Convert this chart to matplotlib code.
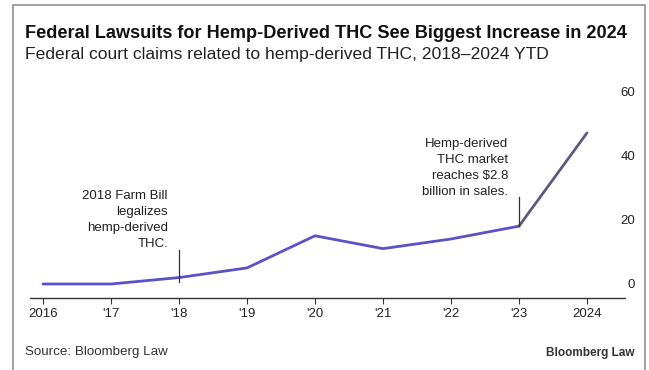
import matplotlib
matplotlib.use("Agg")
import matplotlib.pyplot as plt
from matplotlib.patches import Rectangle

plt.rcParams['font.family'] = ['Liberation Sans', 'DejaVu Sans']

years = ["2016", "'17", "'18", "'19", "'20", "'21", "'22", "'23", "2024"]
claims = [0, 0, 2, 5, 15, 11, 14, 18, 47]
y_ticks = [0, 20, 40, 60]

W, H = 649, 370
fig = plt.figure(figsize=(W / 100, H / 100), dpi=100)
fig.patch.set_facecolor('white')

def fx(px):
    return px / W

def fy(py):
    return 1 - py / H

# frame
fig.add_artist(Rectangle((fx(12.5), fy(380)), fx(645) - fx(12.5), fy(5) - fy(380),
                         transform=fig.transFigure, fill=False, edgecolor='#9a9a9a', lw=1.3))

# axes placement (pixels)
ax_l, ax_r, ax_t, ax_b = 30, 625, 80, 298
ax = fig.add_axes([fx(ax_l), fy(ax_b), fx(ax_r) - fx(ax_l), fy(ax_t) - fy(ax_b)])
x0, dx = 43, 68
ax.set_xlim((ax_l - x0) / dx, (ax_r - x0) / dx)
ppu = 64.3 / 20
y0 = 284
ax.set_ylim(-(ax_b - y0) / ppu, (y0 - ax_t) / ppu)

xs = list(range(len(years)))
ax.plot(xs[:8], claims[:8], color='#5b52c8', lw=2.0, solid_capstyle='round', zorder=3)
ax.plot(xs[7:], claims[7:], color='#5c5a7e', lw=2.0, solid_capstyle='round', zorder=3)

for s in ['top', 'right', 'left']:
    ax.spines[s].set_visible(False)
ax.spines['bottom'].set_color('#333333')
ax.spines['bottom'].set_linewidth(1.0)
ax.set_xticks(xs)
ax.set_xticklabels(years, fontsize=9.5, color='#222222')
ax.tick_params(axis='x', length=4, width=0.8, color='#333333', pad=3)
ax.yaxis.tick_right()
ax.set_yticks(y_ticks)
ax.set_yticklabels([str(v) for v in y_ticks], fontsize=9.5, color='#222222')
ax.tick_params(axis='y', length=0, pad=0)
for lab in ax.get_yticklabels():
    lab.set_horizontalalignment('right')
    lab.set_x(1.0 + fx(635 - ax_r) / (fx(ax_r) - fx(ax_l)))
ax.set_facecolor('none')

# annotations
ax.plot([2, 2], [claims[2] - 1.5, (y0 - 250) / ppu], color='#333333', lw=0.9, zorder=4)
ax.text(2 - 11 / dx, (y0 - 190) / ppu,
        "2018 Farm Bill\nlegalizes\nhemp-derived\nTHC.",
        ha='right', va='top', fontsize=9.5, color='#222222', linespacing=1.45)
ax.plot([7, 7], [claims[7], (y0 - 197) / ppu], color='#333333', lw=0.9, zorder=4)
ax.text(7 - 11 / dx, (y0 - 137.5) / ppu,
        "Hemp-derived\nTHC market\nreaches $2.8\nbillion in sales.",
        ha='right', va='top', fontsize=9.5, color='#222222', linespacing=1.45)

# titles
fig.text(fx(25), fy(33), "Federal Lawsuits for Hemp-Derived THC See Biggest Increase in 2024",
         fontsize=13.1, fontweight='bold', color='#111111', va='center', ha='left')
fig.text(fx(25), fy(55), "Federal court claims related to hemp-derived THC, 2018\u20132024 YTD",
         fontsize=12.6, color='#222222', va='center', ha='left')
fig.text(fx(25), fy(352), "Source: Bloomberg Law", fontsize=9.6, color='#333333',
         va='center', ha='left')
fig.text(fx(634), fy(353), "Bloomberg Law", fontsize=8.5, color='#333333',
         va='center', ha='right', fontweight='bold')

fig.savefig("out.png", dpi=100, facecolor='white')
